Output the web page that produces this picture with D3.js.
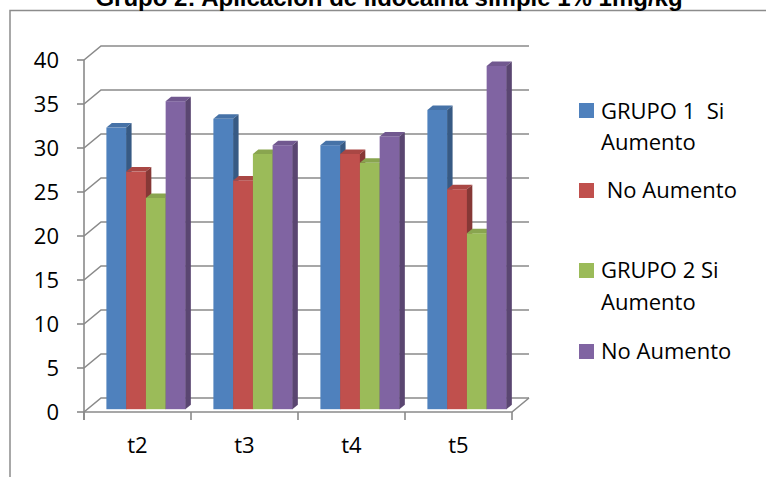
<!DOCTYPE html>
<html>
<head>
<meta charset="utf-8">
<script src="https://cdn.jsdelivr.net/npm/d3@7"></script>
<style>
  html, body { margin: 0; padding: 0; background: #fff; }
  svg { display: block; }
  text { white-space: pre; }
</style>
</head>
<body>
<svg id="chart" width="766" height="477"></svg>
<script>
// Data
const categories = ["t2", "t3", "t4", "t5"];
const seriesNames = ["GRUPO 1  Si\nAumento", " No Aumento", "GRUPO 2 Si\nAumento", "No Aumento"];
const grupo1Si = [32, 33, 30, 34];
const grupo1No = [27, 26, 29, 25];
const grupo2Si = [24, 29, 28, 20];
const grupo2No = [35, 30, 31, 39];
const yTicks = [0, 5, 10, 15, 20, 25, 30, 35, 40];
const titleText = "Grupo 2: Aplicación de lidocaína simple 1% 1mg/kg";

const seriesValues = [grupo1Si, grupo1No, grupo2Si, grupo2No];
const colors = ["#4F81BD", "#C0504D", "#9BBB59", "#8064A2"];

const svg = d3.select("#chart");
const font = "'Open Sans', sans-serif";

// Plot geometry (front plane of the 3D box)
const y = d3.scaleLinear().domain([0, 40]).range([412, 60]);
const x = d3.scaleBand().domain(categories).range([84, 512]);
const xs = d3.scaleBand().domain(d3.range(seriesValues.length)).range([19, 98]);

// Depth of the box and of the bars
const depth = { dx: 17, dy: -14 };
const barFront = 0.2, barBack = 0.52;

const gridColor = "#8a8a8a";

// Outer frame (runs off the page edges)
svg.append("path")
  .attr("d", "M10,477V10.5H766")
  .attr("fill", "none")
  .attr("stroke", "#8c8c8c")
  .attr("stroke-width", 1.5);

// Title
svg.append("text")
  .attr("x", 389).attr("y", 6)
  .attr("text-anchor", "middle")
  .attr("font-family", "'Liberation Sans', Arial, sans-serif")
  .attr("font-weight", "bold")
  .attr("font-size", 24)
  .attr("fill", "#000")
  .text(titleText);

const x0 = x.range()[0], x1 = x.range()[1];

// Gridlines: side wall diagonal + back wall horizontal
const grid = svg.append("g");
yTicks.forEach(t => {
  const yy = y(t);
  grid.append("path")
    .attr("d", `M${x0},${yy}L${x0 + depth.dx},${yy + depth.dy}H${x1 + depth.dx}`)
    .attr("fill", "none")
    .attr("stroke", gridColor)
    .attr("stroke-width", 1.6);
});

// Floor outline
grid.append("path")
  .attr("d", `M${x0},${y(0)}H${x1}L${x1 + depth.dx},${y(0) + depth.dy}`)
  .attr("fill", "none")
  .attr("stroke", gridColor)
  .attr("stroke-width", 1.6);

// Vertical axis line and ticks
grid.append("line")
  .attr("x1", x0).attr("x2", x0)
  .attr("y1", y(40)).attr("y2", y(0) + 8)
  .attr("stroke", gridColor).attr("stroke-width", 1.6);

yTicks.forEach(t => {
  grid.append("line")
    .attr("x1", x0 - 7).attr("x2", x0)
    .attr("y1", y(t)).attr("y2", y(t))
    .attr("stroke", gridColor).attr("stroke-width", 1.6);
  svg.append("text")
    .attr("x", 59).attr("y", y(t))
    .attr("dy", "0.36em")
    .attr("text-anchor", "end")
    .attr("font-family", font)
    .attr("font-size", 22)
    .attr("fill", "#000")
    .text(t);
});

// Category ticks
const catEdges = categories.map(c => x(c)).concat([x1]);
catEdges.forEach(cx => {
  grid.append("line")
    .attr("x1", cx).attr("x2", cx)
    .attr("y1", y(0)).attr("y2", y(0) + 8)
    .attr("stroke", gridColor).attr("stroke-width", 1.6);
});

// Category labels
categories.forEach(c => {
  svg.append("text")
    .attr("x", x(c) + x.bandwidth() / 2)
    .attr("y", 453)
    .attr("text-anchor", "middle")
    .attr("font-family", font)
    .attr("font-size", 22)
    .attr("fill", "#000")
    .text(c);
});

// 3D bars
const bars = svg.append("g");
const fdx = depth.dx * barFront, fdy = depth.dy * barFront;
const bdx = depth.dx * (barBack - barFront), bdy = depth.dy * (barBack - barFront);

categories.forEach((c, ci) => {
  seriesValues.forEach((vals, si) => {
    const v = vals[ci];
    const left = x(c) + xs(si) + fdx;
    const w = xs.bandwidth();
    const top = y(v) + fdy;
    const bottom = y(0) + fdy;
    const base = d3.color(colors[si]);
    const g = bars.append("g");
    // front face
    g.append("rect")
      .attr("x", left).attr("y", top)
      .attr("width", w + 0.4).attr("height", bottom - top)
      .attr("fill", base.formatHex());
    // top face
    g.append("path")
      .attr("d", `M${left},${top}L${left + bdx},${top + bdy}H${left + w + bdx}L${left + w},${top}Z`)
      .attr("fill", base.darker(0.35).formatHex());
    // side face
    g.append("path")
      .attr("d", `M${left + w},${top}L${left + w + bdx},${top + bdy}V${bottom + bdy}L${left + w},${bottom}Z`)
      .attr("fill", base.darker(1.0).formatHex());
  });
});

// Legend
const legendRows = [
  { sq: 103, lines: [119, 150] },
  { sq: 183, lines: [198] },
  { sq: 263, lines: [278, 310] },
  { sq: 344, lines: [359] }
];
const legend = svg.append("g");
seriesNames.forEach((name, i) => {
  legend.append("rect")
    .attr("x", 579).attr("y", legendRows[i].sq)
    .attr("width", 15).attr("height", 15)
    .attr("fill", colors[i]);
  name.split("\n").forEach((ln, k) => {
    legend.append("text")
      .attr("x", 601).attr("y", legendRows[i].lines[k])
      .attr("font-family", font)
      .attr("font-size", 22)
      .attr("fill", "#000")
      .attr("xml:space", "preserve")
      .text(ln);
  });
});
</script>
</body>
</html>
